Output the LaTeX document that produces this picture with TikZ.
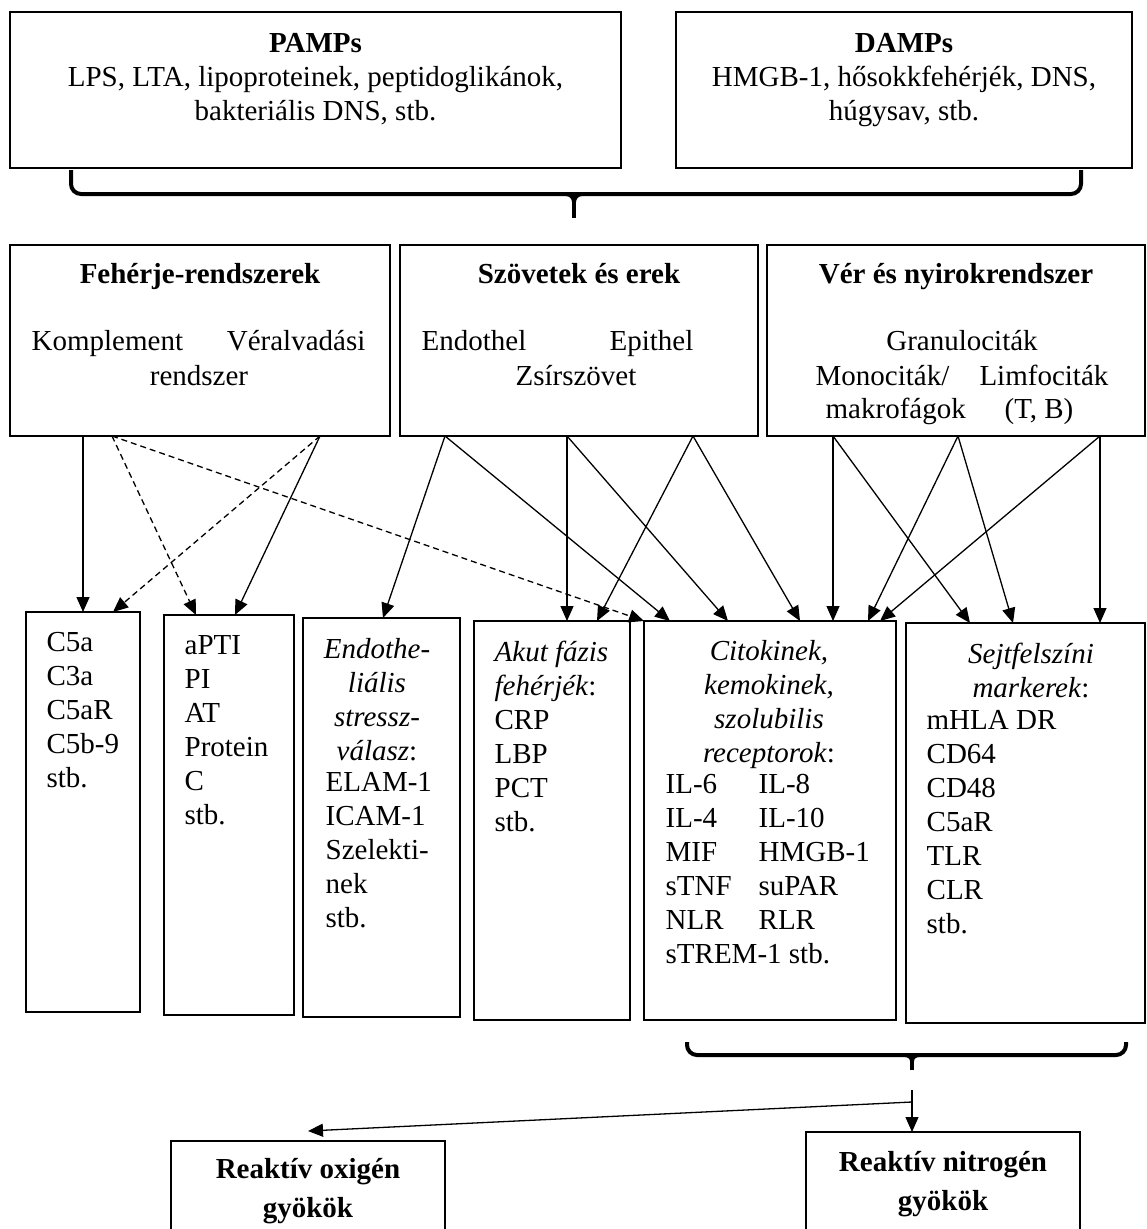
\documentclass[tikz,border=0pt]{standalone}
\usepackage{fontspec}
\setmainfont{Liberation Serif}
\usetikzlibrary{arrows.meta}

\tikzset{
  box/.style={draw,line width=2pt,inner sep=0,outer sep=0},
  thinbox/.style={draw,line width=1.3pt,inner sep=0,outer sep=0},
  txt/.style={inner sep=0,font=\fontsize{29}{34}\selectfont},
  brace/.style={-,line width=4pt,rounded corners=10pt},
  bracetip/.style={-,line width=4pt},
  weak/.style={dash pattern=on 6pt off 4pt},
}

\begin{document}
\begin{tikzpicture}
  [x=1pt,y=-1pt,->,>={Triangle[length=15pt,width=13pt]},line width=1.3pt]
  \useasboundingbox (0,0) rectangle (1146,1229);

  % PAMPs / DAMPs
  \node[box,minimum width=611pt,minimum height=156pt] (pamps) at (315.5,90) {};
  \node[box,minimum width=456pt,minimum height=156pt] (damps) at (904,90) {};
  \node[txt,anchor=north,align=center] (pampst) at (315.5,33)
    {\textbf{PAMPs}\\LPS, LTA, lipoproteinek, peptidoglikánok,\\bakteriális DNS, stb.};
  \node[txt,anchor=north,align=center] (dampst) at (904,33)
    {\textbf{DAMPs}\\HMGB-1, hősokkfehérjék, DNS,\\húgysav, stb.};

  \coordinate (b1l) at (71,170);
  \coordinate (b1r) at (1081,170);
  \coordinate (b1m) at (574,194);
  \coordinate (b1t) at (574,218);
  \draw[brace] (b1l) |- (b1m) -| (b1r);
  \draw[bracetip] ([xshift=-8pt]b1m) to[out=0,in=90] ([yshift=-8pt]b1m)
                  to[out=90,in=180] ([xshift=8pt]b1m);
  \draw[bracetip] ([yshift=-6pt]b1m) -- (b1t);

  % middle row
  \node[box,minimum width=380pt,minimum height=191pt] (feh) at (200,340.5) {};
  \node[box,minimum width=358pt,minimum height=191pt] (szov) at (579,340.5) {};
  \node[box,minimum width=378pt,minimum height=191pt] (ver) at (956,340.5) {};

  \node[txt,anchor=base] (feht) at (200,283) {\textbf{Fehérje-rendszerek}};
  \node[txt,anchor=base west] (kompl) at (31,350) {Komplement};
  \node[txt,anchor=base east] (veralv) at (366,350) {Véralvadási};
  \node[txt,anchor=base] (rendsz) at (199,385) {rendszer};

  \node[txt,anchor=base] (szovt) at (579,283) {\textbf{Szövetek és erek}};
  \node[txt,anchor=base west] (endoth) at (421,350) {Endothel};
  \node[txt,anchor=base east] (epith) at (694,350) {Epithel};
  \node[txt,anchor=base] (zsir) at (576,385) {Zsírszövet};

  \node[txt,anchor=base] (vert) at (956,283) {\textbf{Vér és nyirokrendszer}};
  \node[txt,anchor=base] (granu) at (962,350) {Granulociták};
  \node[txt,anchor=base west] (mono) at (815,385) {Monociták/};
  \node[txt,anchor=base east] (limf) at (1109,385) {Limfociták};
  \node[txt,anchor=base west] (makro) at (825,418) {makrofágok};
  \node[txt,anchor=base east] (tb) at (1074,418) {(T, B)};

  % bottom row
  \node[box,minimum width=114pt,minimum height=400pt] (c5) at (83,812) {};
  \node[box,minimum width=130pt,minimum height=400pt] (apti) at (229,815) {};
  \node[box,minimum width=157pt,minimum height=399pt] (endo) at (381.5,817.5) {};
  \node[box,minimum width=156pt,minimum height=399pt] (akut) at (552,820.5) {};
  \node[box,minimum width=252pt,minimum height=399pt] (cito) at (770,820.5) {};
  \node[box,minimum width=239pt,minimum height=400pt] (sejt) at (1025.5,823) {};

  \node[txt,anchor=north west,align=left] (c5t) at (46,632) {C5a\\C3a\\C5aR\\C5b-9\\stb.};
  \node[txt,anchor=north west,align=left] (aptit) at (184,635) {aPTI\\PI\\AT\\Protein\\C\\stb.};
  \node[txt,anchor=north,align=center] (endoh) at (377,638)
    {\textit{Endothe-}\\\textit{liális}\\\textit{stressz-}\\\textit{válasz}:};
  \node[txt,anchor=north west,align=left] (endol) at (325,772) {ELAM-1\\ICAM-1\\Szelekti-\\nek\\stb.};
  \node[txt,anchor=north west,align=left] (akutt) at (494,640)
    {\textit{Akut fázis}\\\textit{fehérjék}:\\CRP\\LBP\\PCT\\stb.};
  \node[txt,anchor=north,align=center] (citoh) at (769,640)
    {\textit{Citokinek,}\\\textit{kemokinek,}\\\textit{szolubilis}\\\textit{receptorok}:};
  \node[txt,anchor=north west,align=left] (citoa) at (665,774) {IL-6\\IL-4\\MIF\\sTNF\\NLR\\sTREM-1 stb.};
  \node[txt,anchor=north west,align=left] (citob) at (758,774) {IL-8\\IL-10\\HMGB-1\\suPAR\\RLR};
  \node[txt,anchor=north,align=center] (sejth) at (1031,642)
    {\textit{Sejtfelszíni}\\\textit{markerek}:};
  \node[txt,anchor=north west,align=left] (sejtl) at (926,710) {mHLA DR\\CD64\\CD48\\C5aR\\TLR\\CLR\\stb.};

  % arrows
  \path ([xshift=73pt]feh.south west) edge ([xshift=57pt]c5.north west);
  \path ([xshift=102pt]feh.south west) edge[weak] ([xshift=32pt]apti.north west)
                                       edge[weak] (cito.north west);
  \path ([xshift=310pt]feh.south west) edge[weak] ([xshift=87pt]c5.north west)
                                       edge ([xshift=71pt]apti.north west);

  \path ([xshift=45pt]szov.south west) edge ([xshift=80pt]endo.north west)
                                       edge ([xshift=26pt]cito.north west);
  \path ([xshift=167pt]szov.south west) edge ([xshift=93pt]akut.north west)
                                        edge ([xshift=84pt]cito.north west);
  \path ([xshift=293pt]szov.south west) edge ([xshift=123pt]akut.north west)
                                        edge ([xshift=156pt]cito.north west);

  \path ([xshift=66pt]ver.south west) edge ([xshift=189pt]cito.north west)
                                      edge ([xshift=64pt]sejt.north west);
  \path ([xshift=191pt]ver.south west) edge ([xshift=224pt]cito.north west)
                                       edge ([xshift=107pt]sejt.north west);
  \path ([xshift=333pt]ver.south west) edge ([xshift=194pt]sejt.north west)
                                       edge ([xshift=236pt]cito.north west);

  % radicals
  \coordinate (b2l) at (687,1042);
  \coordinate (b2r) at (1126,1042);
  \coordinate (b2m) at (912,1055);
  \coordinate (b2t) at (912,1070);
  \draw[brace] (b2l) |- (b2m) -| (b2r);
  \draw[bracetip] ([xshift=-7pt]b2m) to[out=0,in=90] ([yshift=-6pt]b2m)
                  to[out=90,in=180] ([xshift=7pt]b2m);
  \draw[bracetip] ([yshift=-5pt]b2m) -- (b2t);

  \node[thinbox,minimum width=274pt,minimum height=130pt] (oxi) at (308,1206) {};
  \node[thinbox,minimum width=274pt,minimum height=140pt] (nitro) at (943,1202) {};
  \node[txt,anchor=north,align=center] (oxit) at (308,1158)
    {\textbf{Reaktív oxigén}\\[5pt]\textbf{gyökök}};
  \node[txt,anchor=north,align=center] (nitrot) at (943,1151)
    {\textbf{Reaktív nitrogén}\\[5pt]\textbf{gyökök}};

  \coordinate (split) at (912,1090);
  \coordinate (fork) at (912,1102);
  \path (split) edge ([xshift=-31pt]nitro.north)
        (fork) edge ([yshift=10pt]oxi.north);

\end{tikzpicture}
\end{document}
